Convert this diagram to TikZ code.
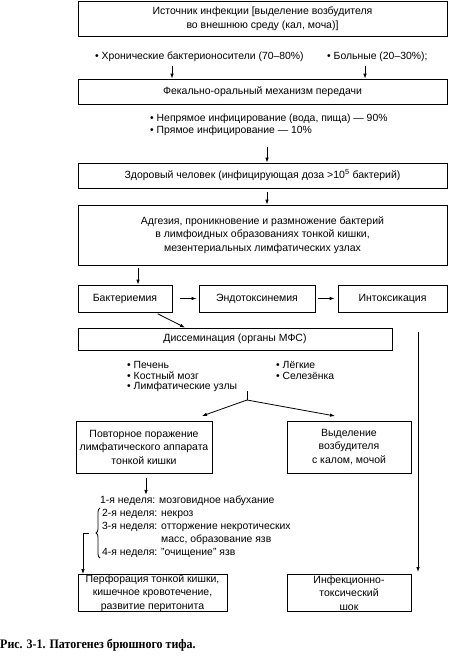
\documentclass[tikz,border=0pt]{standalone}
\usepackage{fontspec}
\setmainfont{Liberation Sans}
\newfontfamily\capfont{Liberation Serif}
\usepackage{graphicx}
\usetikzlibrary{arrows.meta,decorations.pathreplacing}
\tikzset{
  bx/.style={draw,line width=0.8pt,align=center,inner sep=0pt,font=\fontsize{10.5}{13.5}\selectfont},
  lbl/.style={anchor=west,inner sep=0pt,font=\fontsize{10.4}{11}\selectfont},
  arr/.style={line width=0.8pt,-{Latex[length=5pt,width=3.5pt]}},
  ln/.style={line width=0.8pt}
}
\begin{document}
\begin{tikzpicture}[x=1pt,y=-1pt]
\useasboundingbox (0,0) rectangle (448,662);
% boxes
\node[bx,minimum width=369,minimum height=35] (src) at (262.5,18.5) {Источник инфекции [выделение возбудителя\\во внешнюю среду (кал, моча)]};
\node[bx,minimum width=369,minimum height=25] (fec) at (262.5,91.5) {Фекально-оральный механизм передачи};
\node[bx,minimum width=369,minimum height=25] (hum) at (262.5,175.5) {Здоровый человек (инфицирующая доза >10\textsuperscript{5} бактерий)};
\node[bx,minimum width=369,minimum height=60] (adh) at (262.5,235) {Адгезия, проникновение и размножение бактерий\\в лимфоидных образованиях тонкой кишки,\\мезентериальных лимфатических узлах};
\node[bx,minimum width=94,minimum height=27] (bact) at (125,298.5) {Бактериемия};
\node[bx,minimum width=116,minimum height=27] (endo) at (257,298.5) {Эндотоксинемия};
\node[bx,minimum width=109,minimum height=27] (intox) at (392.5,298.5) {Интоксикация};
\node[bx,minimum width=314,minimum height=22] (diss) at (235,339) {Диссеминация (органы МФС)};
\node[bx,minimum width=136,minimum height=52] (povt) at (144,447) {Повторное поражение\\лимфатического аппарата\\тонкой кишки};
\node[bx,minimum width=124,minimum height=52] (vyd) at (349,447) {Выделение\\возбудителя\\с калом, мочой};
\node[bx,minimum width=149,minimum height=37] (perf) at (152.5,593) {Перфорация тонкой кишки,\\кишечное кровотечение,\\развитие перитонита};
\node[bx,minimum width=124,minimum height=37] (shock) at (349,593) {Инфекционно-\\токсический\\шок};
% labels
\node[lbl] (chron) at (95,57) {• Хронические бактерионосители (70–80\%)};
\node[lbl] (ill) at (327,57) {• Больные (20–30\%);};
\node[lbl] (ind) at (150,119) {• Непрямое инфицирование (вода, пища) — 90\%};
\node[lbl] (dir) at (150,131) {• Прямое инфицирование — 10\%};
\node[lbl] (liv) at (127,365) {• Печень};
\node[lbl] (bm) at (127,376) {• Костный мозг};
\node[lbl] (lym) at (127,387) {• Лимфатические узлы};
\node[lbl] (lung) at (276,365) {• Лёгкие};
\node[lbl] (spl) at (276,376) {• Селезёнка};
\node[lbl] (w1) at (100,501) {1-я неделя: мозговидное набухание};
\node[lbl] (w2) at (102,514) {2-я неделя: некроз};
\node[lbl] (w3) at (102,527) {3-я неделя: отторжение некротических};
\node[lbl] (w3b) at (102,540) {\phantom{3-я неделя: }масс, образование язв};
\node[lbl] (w4) at (102,553) {4-я неделя: "очищение" язв};
\node[anchor=west,inner sep=0pt] (cap) at (0,645) {\scalebox{0.92}[1]{\capfont\bfseries\fontsize{13}{15}\selectfont Рис. 3-1. Патогенез брюшного тифа.}};
% helper coordinates
\coordinate (c1) at (172,0);
\coordinate (c2) at (365,0);
\coordinate (c3) at (267,0);
\coordinate (c4) at (138,0);
\coordinate (c5) at (155,0);
\coordinate (c6) at (185,0);
\coordinate (c7) at (146,0);
\coordinate (vtop) at (418,332);
\coordinate (fork) at (247,391);
\coordinate (forkb) at (247,400);
\coordinate (lft) at (202,416);
\coordinate (rgt) at (335,416);
\coordinate (btip) at (89,533);
\coordinate (bcor) at (83,533);
% connectors
\draw[arr] (chron.south -| c1) ++(0,4) -- (c1 |- fec.north);
\draw[arr] (ill.south -| c2) ++(0,4) -- (c2 |- fec.north);
\draw[arr] (c3 |- 0,147) -- (c3 |- hum.north);
\draw[arr,shorten <=4pt] (c3 |- hum.south) -- (c3 |- adh.north);
\draw[arr,shorten <=3pt] (c4 |- adh.south) -- (c4 |- bact.north);
\draw[arr,shorten <=8pt,shorten >=2pt] (bact.east) -- (endo.west);
\draw[arr,shorten <=3pt,shorten >=3pt] (endo.east) -- (intox.west);
\draw[arr,shorten <=3pt] (c5 |- bact.south) -- (c6 |- diss.north);
\draw[arr] (vtop) -- (418,572);
\draw[ln] (fork) -- (forkb);
\draw[arr] (forkb) -- (lft);
\draw[arr] (forkb) -- (rgt);
\draw[arr,shorten <=5pt,shorten >=1pt] (c7 |- povt.south) -- (c7 |- w1.north);
\draw[ln,decorate,decoration={brace,amplitude=4pt}] (100,558) -- (100,508);
\draw[arr] (btip) -- (bcor) -- (bcor |- perf.north);
\end{tikzpicture}
\end{document}
